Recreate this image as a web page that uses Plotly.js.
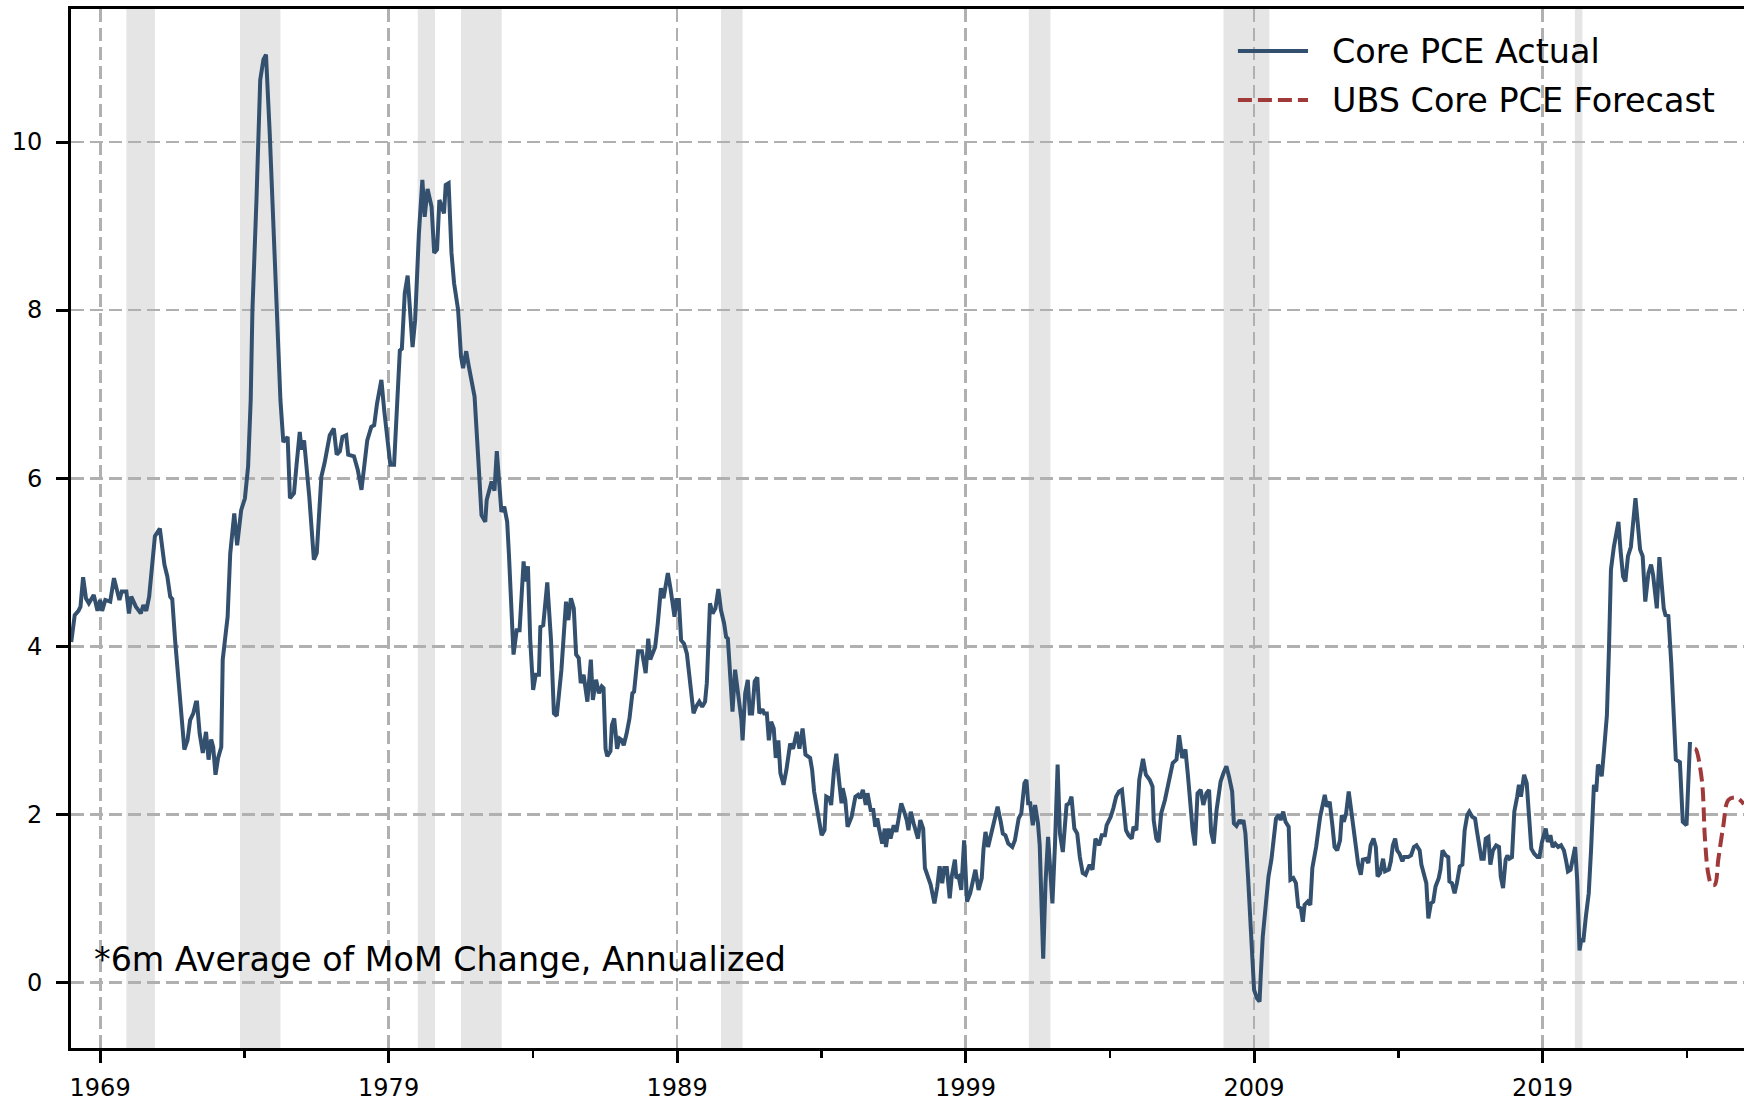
<!DOCTYPE html>
<html>
<head>
<meta charset="utf-8">
<script src="https://cdn.plot.ly/plotly-3.0.1.min.js"></script>
<style>
  html, body { margin: 0; padding: 0; background: #ffffff; }
  #chart { width: 1744px; height: 1104px; }
</style>
</head>
<body>
<div id="chart"></div>
<script>
// ---- Data (x = decimal year) ----
const actualYears = [
  1968.00,1968.12,1968.25,1968.32,1968.41,1968.51,1968.61,1968.78,1968.91,1969.00,
  1969.07,1969.18,1969.35,1969.48,1969.67,1969.75,1969.91,1970.00,1970.08,1970.24,
  1970.41,1970.50,1970.60,1970.70,1970.90,1971.07,1971.23,1971.33,1971.43,1971.50,
  1971.60,1971.76,1971.86,1971.92,1972.03,1972.12,1972.23,1972.32,1972.36,1972.45,
  1972.56,1972.67,1972.76,1972.85,1972.92,1973.00,1973.09,1973.20,1973.25,1973.42,
  1973.51,1973.65,1973.75,1973.89,1974.02,1974.13,1974.22,1974.28,1974.42,1974.55,
  1974.66,1974.75,1974.88,1975.08,1975.25,1975.35,1975.50,1975.58,1975.72,1975.81,
  1975.92,1975.98,1976.07,1976.25,1976.41,1976.51,1976.67,1976.78,1976.87,1976.96,
  1977.10,1977.20,1977.31,1977.40,1977.53,1977.60,1977.80,1977.93,1978.06,1978.13,
  1978.26,1978.40,1978.50,1978.60,1978.75,1978.85,1979.06,1979.19,1979.39,1979.46,
  1979.56,1979.66,1979.83,1979.92,1980.05,1980.17,1980.25,1980.35,1980.49,1980.58,
  1980.68,1980.76,1980.85,1980.92,1980.98,1981.08,1981.18,1981.27,1981.41,1981.51,
  1981.58,1981.69,1981.78,1981.98,1982.11,1982.22,1982.35,1982.40,1982.57,1982.67,
  1982.75,1982.91,1983.01,1983.11,1983.17,1983.28,1983.33,1983.44,1983.54,1983.68,
  1983.73,1983.83,1983.91,1984.01,1984.10,1984.21,1984.26,1984.36,1984.50,1984.63,
  1984.73,1984.83,1984.99,1985.15,1985.23,1985.32,1985.42,1985.50,1985.59,1985.66,
  1985.76,1985.89,1986.01,1986.08,1986.19,1986.29,1986.39,1986.45,1986.52,1986.58,
  1986.69,1986.74,1986.82,1986.92,1987.01,1987.09,1987.15,1987.25,1987.35,1987.45,
  1987.51,1987.65,1987.78,1987.91,1988.00,1988.07,1988.15,1988.24,1988.33,1988.44,
  1988.53,1988.68,1988.77,1988.91,1988.97,1989.06,1989.14,1989.24,1989.34,1989.48,
  1989.57,1989.66,1989.77,1989.87,1989.97,1990.03,1990.14,1990.23,1990.33,1990.43,
  1990.52,1990.63,1990.70,1990.76,1990.83,1990.92,1991.01,1991.12,1991.23,1991.27,
  1991.36,1991.45,1991.52,1991.60,1991.69,1991.78,1991.85,1991.96,1992.02,1992.11,
  1992.18,1992.26,1992.35,1992.42,1992.51,1992.58,1992.69,1992.79,1992.92,1993.02,
  1993.15,1993.24,1993.35,1993.45,1993.61,1993.68,1993.75,1993.88,1993.95,1994.01,
  1994.11,1994.17,1994.28,1994.34,1994.44,1994.52,1994.61,1994.70,1994.74,1994.83,
  1994.91,1995.05,1995.18,1995.27,1995.34,1995.44,1995.54,1995.60,1995.71,1995.80,
  1995.87,1995.94,1996.00,1996.11,1996.20,1996.24,1996.33,1996.40,1996.51,1996.60,
  1996.69,1996.77,1996.87,1996.96,1997.02,1997.10,1997.20,1997.26,1997.35,1997.43,
  1997.53,1997.59,1997.70,1997.79,1997.92,1998.02,1998.10,1998.19,1998.26,1998.35,
  1998.45,1998.52,1998.63,1998.68,1998.76,1998.85,1998.95,1999.05,1999.16,1999.25,
  1999.34,1999.45,1999.56,1999.62,1999.69,1999.78,1999.91,2000.01,2000.11,2000.22,
  2000.29,2000.38,2000.48,2000.62,2000.71,2000.84,2000.93,2001.04,2001.11,2001.17,
  2001.24,2001.33,2001.41,2001.51,2001.57,2001.69,2001.77,2001.86,2001.94,2002.01,
  2002.10,2002.19,2002.27,2002.37,2002.50,2002.59,2002.67,2002.77,2002.87,2002.96,
  2003.06,2003.16,2003.30,2003.40,2003.50,2003.63,2003.72,2003.83,2003.89,2004.03,
  2004.12,2004.22,2004.32,2004.42,2004.56,2004.65,2004.76,2004.82,2004.92,2005.02,
  2005.15,2005.25,2005.38,2005.48,2005.52,2005.61,2005.69,2005.78,2005.91,2006.05,
  2006.18,2006.31,2006.40,2006.51,2006.62,2006.71,2006.78,2006.87,2006.95,2007.04,
  2007.15,2007.24,2007.35,2007.44,2007.51,2007.60,2007.70,2007.84,2007.94,2008.04,
  2008.13,2008.24,2008.30,2008.39,2008.50,2008.57,2008.63,2008.70,2008.79,2008.90,
  2009.00,2009.10,2009.19,2009.23,2009.30,2009.40,2009.50,2009.60,2009.69,2009.76,
  2009.85,2009.92,2010.01,2010.09,2010.20,2010.26,2010.36,2010.45,2010.53,2010.62,
  2010.69,2010.75,2010.86,2010.95,2011.02,2011.15,2011.29,2011.45,2011.52,2011.62,
  2011.72,2011.79,2011.88,2011.98,2012.04,2012.11,2012.19,2012.28,2012.35,2012.41,
  2012.48,2012.55,2012.61,2012.70,2012.77,2012.88,2012.96,2013.04,2013.14,2013.22,
  2013.28,2013.37,2013.47,2013.54,2013.67,2013.74,2013.81,2013.89,2013.96,2014.04,
  2014.14,2014.20,2014.34,2014.44,2014.54,2014.63,2014.74,2014.80,2014.89,2014.97,
  2015.04,2015.13,2015.21,2015.29,2015.40,2015.46,2015.53,2015.64,2015.73,2015.77,
  2015.86,2015.95,2016.03,2016.13,2016.22,2016.30,2016.39,2016.46,2016.56,2016.66,
  2016.72,2016.82,2016.88,2016.96,2017.03,2017.12,2017.19,2017.28,2017.39,2017.49,
  2017.55,2017.63,2017.72,2017.78,2017.85,2017.94,2018.02,2018.12,2018.18,2018.25,
  2018.36,2018.45,2018.54,2018.61,2018.71,2018.82,2018.89,2018.98,2019.11,2019.18,
  2019.27,2019.35,2019.44,2019.54,2019.64,2019.74,2019.82,2019.88,2019.97,2020.04,
  2020.13,2020.20,2020.28,2020.35,2020.41,2020.50,2020.60,2020.68,2020.73,2020.78,
  2020.86,2020.92,2020.99,2021.05,2021.13,2021.23,2021.30,2021.37,2021.47,2021.57,
  2021.63,2021.70,2021.79,2021.87,2021.96,2022.06,2022.14,2022.22,2022.30,2022.38,
  2022.47,2022.56,2022.67,2022.76,2022.83,2022.96,2023.05,2023.12,2023.20,2023.26,
  2023.36,2023.46,2023.53,2023.62,2023.76,2023.86,2023.99,2024.11
];
const actualValues = [
  4.05,4.37,4.42,4.47,4.82,4.57,4.51,4.61,4.42,4.55,
  4.42,4.55,4.53,4.81,4.55,4.65,4.65,4.39,4.59,4.47,
  4.39,4.49,4.42,4.59,5.31,5.40,4.97,4.83,4.59,4.56,
  4.07,3.36,2.90,2.77,2.88,3.12,3.20,3.33,3.33,2.96,
  2.73,2.98,2.65,2.89,2.80,2.47,2.67,2.80,3.84,4.35,
  5.10,5.58,5.20,5.62,5.76,6.14,6.93,8.00,9.31,10.74,
  10.98,11.04,10.10,8.52,6.93,6.43,6.49,5.76,5.82,6.16,
  6.55,6.34,6.45,5.78,5.03,5.11,6.02,6.18,6.33,6.51,
  6.59,6.28,6.32,6.49,6.51,6.28,6.26,6.10,5.86,6.10,
  6.45,6.61,6.63,6.89,7.17,6.80,6.16,6.16,7.52,7.54,
  8.20,8.41,7.56,7.88,8.91,9.55,9.11,9.44,9.23,8.68,
  8.72,9.31,9.21,9.15,9.49,9.51,8.68,8.32,8.00,7.45,
  7.31,7.51,7.33,6.97,6.22,5.56,5.48,5.74,5.96,5.85,
  6.32,5.60,5.66,5.48,5.10,4.15,3.90,4.19,4.19,5.01,
  4.77,4.95,4.07,3.48,3.66,3.66,4.23,4.25,4.76,4.07,
  3.20,3.17,3.72,4.53,4.31,4.57,4.45,3.90,3.86,3.56,
  3.66,3.34,3.84,3.36,3.60,3.44,3.52,3.50,2.78,2.69,
  2.75,3.06,3.14,2.78,2.90,2.88,2.82,2.96,3.14,3.44,
  3.46,3.94,3.94,3.68,4.09,3.84,3.90,3.99,4.27,4.69,
  4.57,4.87,4.69,4.35,4.55,4.55,4.07,4.03,3.91,3.44,
  3.20,3.28,3.34,3.28,3.34,3.56,4.51,4.39,4.45,4.68,
  4.43,4.27,4.11,4.09,3.76,3.22,3.72,3.44,3.12,2.88,
  3.44,3.60,3.20,3.20,3.58,3.63,3.20,3.25,3.20,3.20,
  2.88,3.10,3.02,2.67,2.88,2.49,2.35,2.53,2.84,2.78,
  2.98,2.78,3.02,2.71,2.67,2.53,2.27,2.01,1.85,1.75,
  1.81,2.21,2.19,2.11,2.53,2.72,2.41,2.13,2.31,2.17,
  1.85,1.97,2.21,2.23,2.19,2.29,2.11,2.25,2.05,2.05,
  1.85,1.95,1.83,1.65,1.83,1.61,1.83,1.71,1.87,1.79,
  1.97,2.13,2.03,1.93,1.81,2.03,1.89,1.81,1.71,1.93,
  1.83,1.36,1.26,1.16,0.94,1.14,1.38,1.18,1.36,1.36,
  1.00,1.26,1.46,1.24,1.26,1.10,1.69,0.96,1.06,1.22,
  1.34,1.10,1.24,1.58,1.79,1.61,1.81,1.99,2.09,1.91,
  1.77,1.75,1.65,1.61,1.69,1.95,2.01,2.37,2.41,2.13,
  2.13,1.87,2.11,1.89,1.63,0.28,1.18,1.73,1.22,0.94,
  1.65,2.59,1.77,1.55,2.11,2.13,2.21,1.83,1.77,1.49,
  1.30,1.28,1.40,1.34,1.71,1.63,1.75,1.75,1.87,1.97,
  2.07,2.21,2.27,2.29,1.81,1.75,1.71,1.85,1.81,2.41,
  2.66,2.47,2.41,2.33,1.93,1.71,1.67,2.01,2.17,2.39,
  2.61,2.65,2.94,2.67,2.77,2.45,2.15,1.81,1.63,2.25,
  2.29,2.11,2.25,2.29,1.79,1.65,2.05,2.39,2.49,2.57,
  2.45,2.27,1.89,1.86,1.93,1.89,1.93,1.77,1.26,0.62,
  -0.09,-0.19,-0.23,0.07,0.54,0.90,1.26,1.46,1.69,1.95,
  1.99,1.93,2.03,1.91,1.85,1.22,1.24,1.18,0.90,0.88,
  0.72,0.92,0.96,0.92,1.36,1.61,1.97,2.23,2.09,2.15,
  1.85,1.61,1.57,1.69,1.99,1.91,2.01,2.27,2.09,1.91,
  1.71,1.53,1.40,1.28,1.46,1.47,1.42,1.63,1.71,1.61,
  1.26,1.30,1.47,1.32,1.34,1.44,1.63,1.71,1.57,1.53,
  1.44,1.49,1.49,1.51,1.61,1.63,1.57,1.40,1.26,1.18,
  0.76,0.94,0.96,1.14,1.24,1.34,1.57,1.51,1.49,1.20,
  1.18,1.06,1.18,1.38,1.40,1.81,1.99,2.03,1.97,1.95,
  1.81,1.57,1.47,1.47,1.71,1.73,1.40,1.57,1.63,1.61,
  1.26,1.12,1.46,1.51,1.47,1.49,2.03,2.21,2.35,2.21,
  2.47,2.37,2.01,1.59,1.53,1.49,1.49,1.67,1.83,1.67,
  1.75,1.61,1.65,1.61,1.63,1.57,1.44,1.32,1.34,1.47,
  1.61,1.22,0.38,0.52,0.48,0.78,1.06,1.57,1.97,2.35,
  2.27,2.59,2.55,2.45,2.76,3.18,3.95,4.91,5.18,5.34,
  5.48,5.15,4.83,4.77,5.07,5.18,5.42,5.76,5.46,5.15,
  5.07,4.53,4.87,4.97,4.85,4.45,5.06,4.71,4.45,4.37,
  4.36,3.80,3.20,2.65,2.62,1.91,1.87,2.86
];
const forecastYears  = [2024.28,2024.32,2024.52,2024.63,2024.74,2024.86,2024.97,2025.09,2025.26,2025.44,2025.67,2025.84,2025.98];
const forecastValues = [2.78,2.77,2.41,1.70,1.30,1.16,1.16,1.46,1.85,2.17,2.20,2.17,2.12];

// NBER recessions (shaded bands)
const recessionStarts = [1969.91,1973.85,1980.01,1981.51,1990.52,2001.19,2007.94,2020.12];
const recessionEnds   = [1970.90,1975.25,1980.61,1982.92,1991.27,2001.94,2009.53,2020.38];

// Axis ticks
const majorTickYears = [1969,1979,1989,1999,2009,2019];
const majorTickLabels = ['1969','1979','1989','1999','2009','2019'];
const minorTickYears = [1974,1984,1994,2004,2014,2024];
const yTickValues = [0,2,4,6,8,10];

const seriesNames = ['Core PCE Actual','UBS Core PCE Forecast'];
const noteText = '*6m Average of MoM Change, Annualized';

// ---- Styles ----
const navy = '#34506f';
const brick = '#a03a3a';
const gridGrey = '#b0b0b0';
const shadeGrey = '#e5e5e5';
const fontFamily = '"DejaVu Sans", Verdana, sans-serif';
const lineW = 4;

const traces = [
  { x: actualYears, y: actualValues, type: 'scatter', mode: 'lines', name: seriesNames[0],
    line: { color: navy, width: lineW }, showlegend: false, hoverinfo: 'x+y' },
  { x: forecastYears, y: forecastValues, type: 'scatter', mode: 'lines', name: seriesNames[1],
    line: { color: brick, width: lineW, dash: '14px,6px', shape: 'spline', smoothing: 1 }, showlegend: false, hoverinfo: 'x+y' }
];

const shapes = recessionStarts.map((s, i) => ({
  type: 'rect', xref: 'x', yref: 'paper', x0: s, x1: recessionEnds[i], y0: 0, y1: 1,
  fillcolor: shadeGrey, line: { width: 0 }, layer: 'below'
}));

// manual legend samples
shapes.push({ type: 'line', xref: 'paper', yref: 'paper', x0: 0.6975, x1: 0.7394, y0: 0.9596, y1: 0.9596,
  line: { color: navy, width: lineW } });
shapes.push({ type: 'line', xref: 'paper', yref: 'paper', x0: 0.6975, x1: 0.7394, y0: 0.9124, y1: 0.9124,
  line: { color: brick, width: lineW, dash: '14px,6px' } });

const annotations = [
  { xref: 'paper', yref: 'paper', x: 0.7523, y: 0.9590, xanchor: 'left', yanchor: 'middle',
    text: seriesNames[0], showarrow: false, font: { family: fontFamily, size: 33.4, color: '#000' } },
  { xref: 'paper', yref: 'paper', x: 0.7523, y: 0.9121, xanchor: 'left', yanchor: 'middle',
    text: seriesNames[1], showarrow: false, font: { family: fontFamily, size: 33.4, color: '#000' } },
  { xref: 'paper', yref: 'paper', x: 0.0125, y: 0.0854, xanchor: 'left', yanchor: 'middle',
    text: noteText, showarrow: false, font: { family: fontFamily, size: 33.3, color: '#000' } }
];

const layout = {
  width: 1744, height: 1104,
  margin: { l: 71, r: 0, t: 9, b: 56, pad: 0 },
  paper_bgcolor: '#ffffff', plot_bgcolor: '#ffffff',
  font: { family: fontFamily, size: 24, color: '#000' },
  showlegend: false,
  xaxis: {
    range: [1967.991, 2025.982], type: 'linear',
    tickmode: 'array', tickvals: majorTickYears, ticktext: majorTickLabels,
    ticks: 'outside', ticklen: 12, tickwidth: 3, tickcolor: '#000',
    ticklabelstandoff: 4,
    tickfont: { family: fontFamily, size: 24, color: '#000' },
    showline: true, linecolor: '#000', linewidth: 3, mirror: true,
    showgrid: true, gridcolor: gridGrey, gridwidth: 2.8, griddash: '13px,6px',
    zeroline: false,
    minor: { tickmode: 'array', tickvals: minorTickYears, ticks: 'outside', ticklen: 7, tickwidth: 2.5, tickcolor: '#000', showgrid: false }
  },
  yaxis: {
    range: [-0.782, 11.583],
    tickmode: 'array', tickvals: yTickValues,
    ticks: 'outside', ticklen: 12, tickwidth: 3, tickcolor: '#000',
    ticklabelstandoff: 9,
    tickfont: { family: fontFamily, size: 24, color: '#000' },
    showline: true, linecolor: '#000', linewidth: 3, mirror: false,
    showgrid: true, gridcolor: gridGrey, gridwidth: 2.8, griddash: '13px,6px',
    zeroline: false
  },
  shapes: shapes,
  annotations: annotations
};

Plotly.newPlot('chart', traces, layout, { staticPlot: true, displayModeBar: false });
</script>
</body>
</html>
